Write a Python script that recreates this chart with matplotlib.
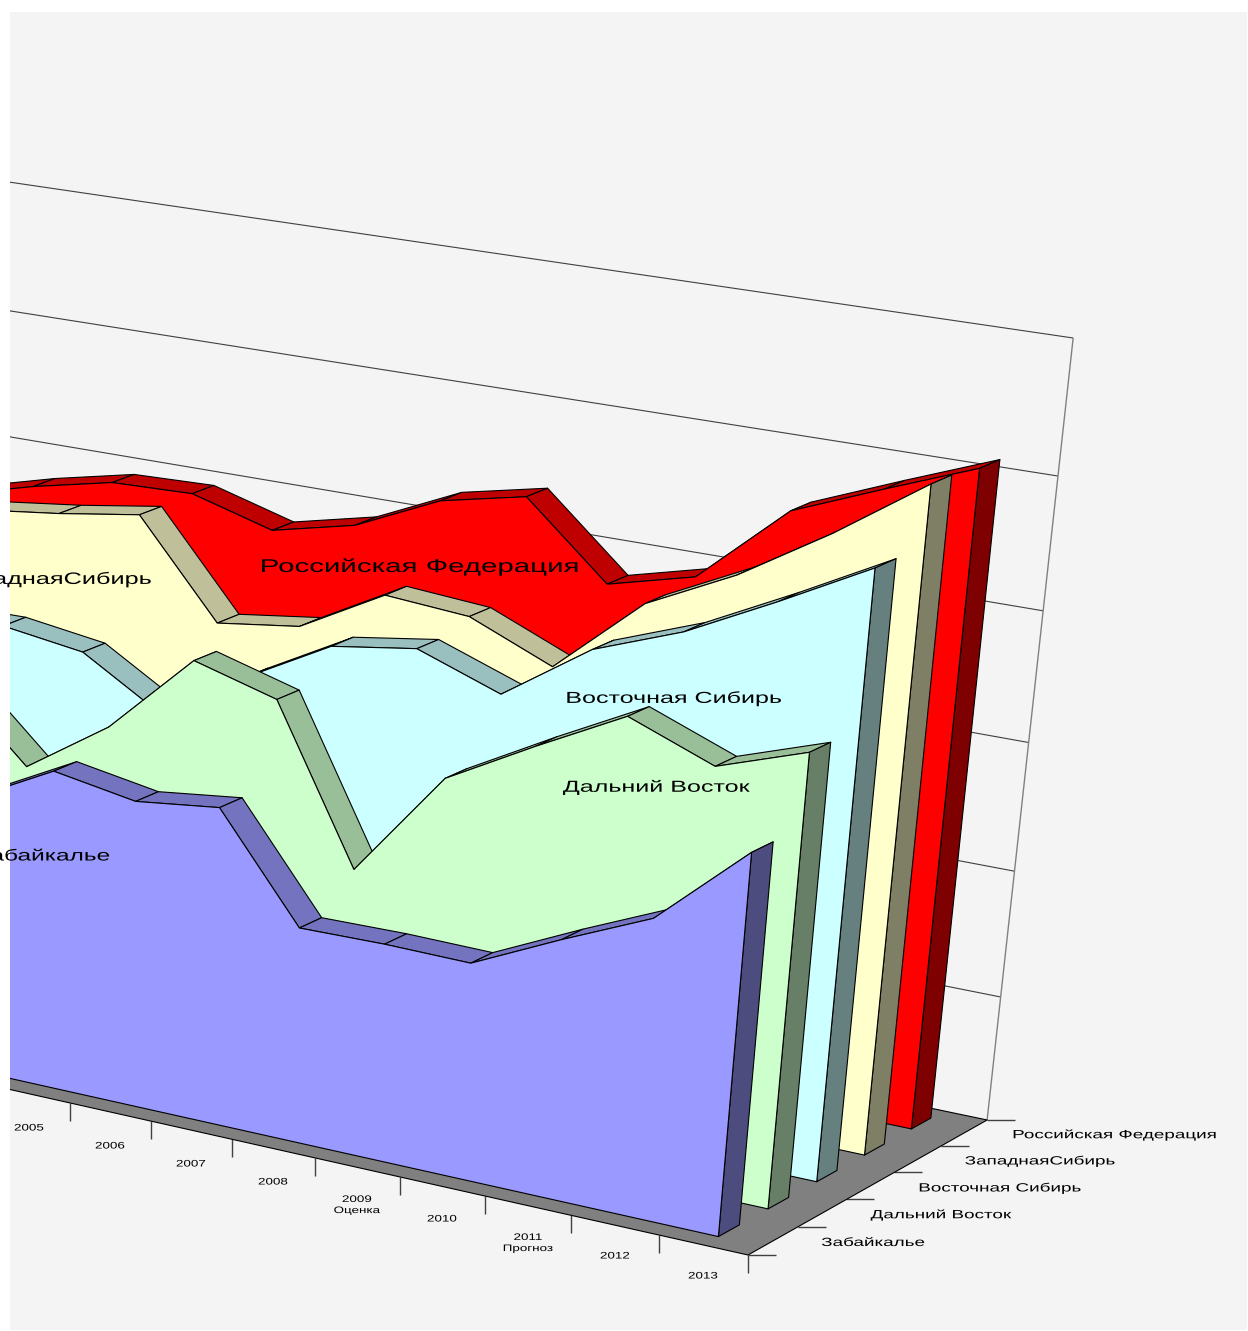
import matplotlib
matplotlib.use("Agg")
import matplotlib.pyplot as plt
import numpy as np
from matplotlib.patches import Polygon, Rectangle
from matplotlib.patheffects import AbstractPathEffect
from matplotlib.transforms import Affine2D

plt.rcParams['font.family'] = ['Liberation Sans', 'DejaVu Sans']

years = [2001, 2002, 2003, 2004, 2005, 2006, 2007, 2008, 2009, 2010, 2011, 2012, 2013]
series_names = ["Забайкалье", "Дальний Восток", "Восточная Сибирь", "ЗападнаяСибирь", "Российская Федерация"]
zabaikalye = [2.10, 2.20, 2.20, 2.21, 2.55, 2.44, 2.52, 1.71, 1.72, 1.71, 2.03, 2.33, 2.96]
far_east = [2.90, 2.90, 2.87, 2.28, 2.72, 3.36, 3.18, 1.98, 2.82, 3.19, 3.54, 3.29, 3.52]
east_sib = [3.10, 3.10, 3.11, 3.02, 2.64, 3.06, 3.42, 3.52, 3.29, 3.75, 4.00, 4.34, 4.70]
west_sib = [3.70, 3.76, 3.84, 3.94, 3.20, 3.29, 3.65, 3.60, 3.33, 3.93, 4.26, 4.68, 5.15]
russia = [3.62, 3.79, 3.93, 3.95, 3.77, 3.92, 4.22, 4.36, 3.80, 3.97, 4.58, 4.85, 5.11]
all_series = [zabaikalye, far_east, east_sib, west_sib, russia]

# front, top, side colours
colors = [("#9999FF", "#7373BF", "#4C4C7F"),
          ("#CCFFCC", "#99BF99", "#667F66"),
          ("#CCFFFF", "#99BFBF", "#667F7F"),
          ("#FFFFCC", "#BFBF99", "#7F7F66"),
          ("#FF0000", "#BF0000", "#7F0000")]

# perspective of the excel 3d chart: (years left of the corner, value, depth) -> pixels
P = np.array([[-84.24, 2.5, 57.4, 748.0],
              [-11.04, -140.6, -16.14, 1255.0],
              [0.00722, -0.01168, 0.0097, 1.0]])
last_edge = years[-1] + 0.5


def proj(year, value, depth):
    p = P @ np.array([last_edge - year, value, depth, 1.0])
    return p[0] / p[2], p[1] / p[2]


class Stretch(AbstractPathEffect):
    # the original text is stretched sideways
    def __init__(self, sx):
        super().__init__()
        self.sx = sx

    def draw_path(self, renderer, gc, tpath, affine, rgbFace=None):
        box = tpath.get_extents(affine)
        cx = (box.x0 + box.x1) / 2
        a = affine + Affine2D().translate(-cx, 0).scale(self.sx, 1).translate(cx, 0)
        renderer.draw_path(gc, tpath, a, rgbFace)


fig = plt.figure(figsize=(12.48, 13.31), dpi=100, facecolor="white")
ax = fig.add_axes([0, 0, 1, 1])
ax.set_xlim(0, 1248)
ax.set_ylim(1331, 0)
ax.axis("off")

bg = Rectangle((10, 12), 1237, 1318, facecolor="#F4F4F4", edgecolor="none", zorder=0)
ax.add_patch(bg)


def poly(points, face, z):
    pg = Polygon(points, closed=True, facecolor=face, edgecolor="black", linewidth=0.8,
                 joinstyle="round", zorder=z)
    ax.add_patch(pg)
    pg.set_clip_path(bg)


def line(points, color, lw, z=1):
    xs, ys = zip(*points)
    ln, = ax.plot(xs, ys, color=color, linewidth=lw, zorder=z, solid_capstyle="butt")
    ln.set_clip_path(bg)


# walls
for v in range(1, 7):
    line([proj(2000, v, 5), proj(last_edge, v, 5)], "#404040", 0.8)
line([proj(last_edge, 0, 5), proj(last_edge, 6, 5)], "#808080", 1.0)

# floor
poly([proj(2000, 0, 0), proj(last_edge, 0, 0), proj(last_edge, 0, 5), proj(2000, 0, 5)], "#808080", 1.5)

# axis ticks
for y in years:
    x0, y0 = proj(y + 0.5, 0, 0)
    line([(x0, y0), (x0, y0 + 18)], "#404040", 1.0)
for d in range(6):
    x0, y0 = proj(last_edge, 0, d)
    line([(x0, y0), (x0 + 28, y0)], "#404040", 1.0)

# series from the back to the front
z = 2
for k in range(4, -1, -1):
    vals = all_series[k]
    front, top, side = colors[k]
    d0, d1 = k + 0.3, k + 0.72
    for i in range(len(years) - 1):
        poly([proj(years[i], vals[i], d0), proj(years[i + 1], vals[i + 1], d0),
              proj(years[i + 1], vals[i + 1], d1), proj(years[i], vals[i], d1)], top, z)
        z += 0.01
    poly([proj(years[-1], 0, d0), proj(years[-1], vals[-1], d0),
          proj(years[-1], vals[-1], d1), proj(years[-1], 0, d1)], side, z)
    z += 0.01
    pts = [proj(years[0], 0, d0)] + [proj(years[i], vals[i], d0) for i in range(len(years))] + [proj(years[-1], 0, d0)]
    poly(pts, front, z)
    z += 0.01


def label(x, y, s, size, sx):
    t = ax.text(x, y, s, fontsize=size, ha="center", va="center", color="black",
                zorder=50, linespacing=1.3)
    t.set_path_effects([Stretch(sx)])
    t.set_clip_path(bg)


# labels on the areas
label(419.5, 567, series_names[4], 13.3, 1.595)
label(51, 579, series_names[3], 11.9, 1.53)
label(674, 698, series_names[2], 11.5, 1.57)
label(656.5, 787, series_names[1], 11.5, 1.57)
label(43, 856, series_names[0], 11.5, 1.53)

# depth axis labels
label(1114.5, 1135, series_names[4], 8.6, 1.58)
label(1040, 1161, series_names[3], 8.6, 1.58)
label(1000, 1188, series_names[2], 8.6, 1.58)
label(941, 1215, series_names[1], 8.6, 1.58)
label(873, 1243, series_names[0], 8.6, 1.58)

# year labels
label(29, 1128, "2005", 6.8, 1.42)
label(110, 1146, "2006", 6.8, 1.42)
label(191, 1164, "2007", 6.8, 1.42)
label(273, 1182, "2008", 6.8, 1.42)
label(357, 1205, "2009\nОценка", 6.8, 1.42)
label(442, 1219, "2010", 6.8, 1.42)
label(528, 1243, "2011\nПрогноз", 6.8, 1.42)
label(615, 1256, "2012", 6.8, 1.42)
label(703, 1276, "2013", 6.8, 1.42)

fig.savefig("out.png", dpi=100)
